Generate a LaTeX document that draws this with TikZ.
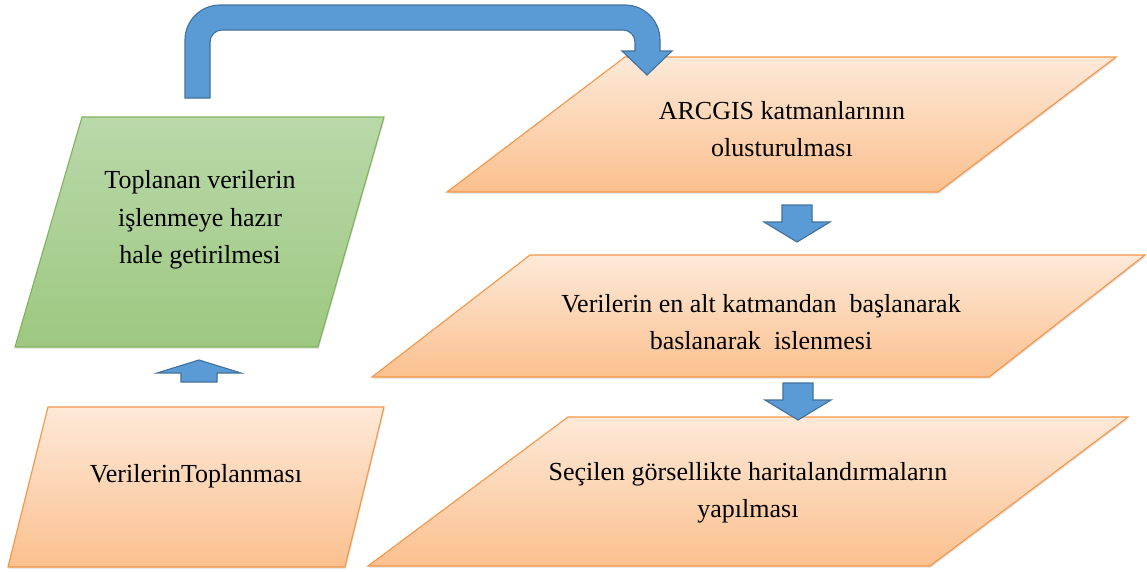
\documentclass[tikz,border=0pt]{standalone}
\usepackage{fontspec}
\setmainfont{LiberationSerif}[Extension=.ttf, UprightFont=*-Regular, BoldFont=*-Bold, ItalicFont=*-Italic, BoldItalicFont=*-BoldItalic]
\usetikzlibrary{shadows}

\definecolor{orangetop}{RGB}{253,233,216}
\definecolor{orangebot}{RGB}{251,192,143}
\definecolor{orangeline}{RGB}{246,150,70}
\definecolor{greentop}{RGB}{186,216,170}
\definecolor{greenbot}{RGB}{157,200,128}
\definecolor{greenline}{RGB}{128,180,92}
\definecolor{arrowfill}{RGB}{91,155,213}
\definecolor{arrowline}{RGB}{65,113,156}

\tikzset{
	databox/.style={draw=orangeline, line width=0.8pt, top color=orangetop, bottom color=orangebot,
		drop shadow={opacity=0.25, shadow xshift=0.6pt, shadow yshift=-1.2pt}},
	greenbox/.style={databox, draw=greenline, top color=greentop, bottom color=greenbot},
	blockarrow/.style={draw=arrowline, fill=arrowfill, line width=0.8pt, line join=miter},
	boxtext/.style={align=center, inner sep=0pt, font=\rmfamily\fontsize{18.5}{26.5}\selectfont},
	downarrow/.pic={\path[blockarrow] (-15,0) -- (15,0) -- (15,17) -- (33,17) -- (0,37) -- (-33,17) -- (-15,17) -- cycle;}
}

\begin{document}
\begin{tikzpicture}[x=0.025cm, y=-0.025cm]
        \useasboundingbox (0,0) rectangle (1147,572);

        %collect
        \path[databox] (48,407) -- (384,407) -- (345,567) -- (8,567) -- cycle;
        \node[boxtext] (collect) at (196,476) {VerilerinToplanması};

        %prepare
        \path[greenbox] (82,117) -- (384,117) -- (318,347) -- (15,347) -- cycle;
        \node[boxtext] (prepare) at (200,220) {Toplanan verilerin\\işlenmeye hazır\\hale getirilmesi};

        \coordinate (up) at (199,382);
        \path[blockarrow] (up) ++(-18,0) -- ++(36,0) -- ++(0,-9) -- ++(24,0) -- ++(-42,-13) -- ++(-42,13) -- ++(24,0) -- cycle;

        %layers
        \path[databox] (625,57) -- (1116,57) -- (938,192) -- (447,192) -- cycle;
        \node[boxtext] (layers) at (782,129) {ARCGIS katmanlarının\\olusturulması};

        %process
        \path[databox] (530,255) -- (1145,255) -- (989,377) -- (372,377) -- cycle;
        \node[boxtext] (process) at (761,322) {Verilerin en alt katmandan \ başlanarak\\baslanarak \ islenmesi};

        %mapping
        \path[databox] (568,417) -- (1128,417) -- (930,566) -- (368,566) -- cycle;
        \node[boxtext] (mapping) at (748,493) {Seçilen görsellikte haritalandırmaların\\yapılması};

        \pic at (797,205) {downarrow};
        \pic at (798,383) {downarrow};

        %prepare -> layers
        \path[blockarrow] (185,98) -- (185,40) arc[start angle=180, end angle=270, radius=35]
            -- (625,5) arc[start angle=270, end angle=360, radius=35]
            -- (660,51) -- (672,51) -- (647,75) -- (622,51) -- (635,51)
            -- (635,42) arc[start angle=0, end angle=-90, radius=12]
            -- (222,30) arc[start angle=270, end angle=180, radius=12]
            -- (210,98) -- cycle;

    \end{tikzpicture}
\end{document}
